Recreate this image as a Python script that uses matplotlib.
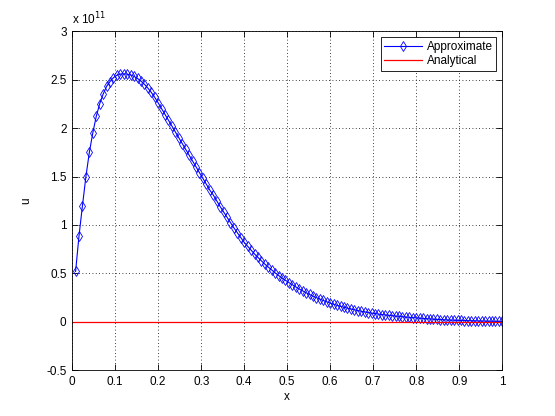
import numpy as np
import matplotlib
matplotlib.use("Agg")
import matplotlib.pyplot as plt
from matplotlib.ticker import FuncFormatter

plt.rcParams["font.family"] = ["Liberation Sans", "DejaVu Sans"]

# approximate solution, sampled every 0.008 (values in units of 1e11)
x_approx = np.arange(1, 126) * 0.008
u_approx = [
    0.52, 0.89, 1.20, 1.50, 1.75, 1.95, 2.12, 2.25, 2.35, 2.43,
    2.48, 2.52, 2.545, 2.557, 2.56,
    2.557, 2.548, 2.533, 2.512, 2.485, 2.452, 2.413, 2.368, 2.317, 2.26,
    2.20, 2.14, 2.08, 2.02, 1.96, 1.90, 1.84, 1.78, 1.72, 1.66,
    1.60, 1.54, 1.48, 1.42, 1.36,
    1.31, 1.25, 1.19, 1.135, 1.08, 1.025, 0.97, 0.92, 0.87, 0.82,
    0.78, 0.74, 0.70, 0.665, 0.63, 0.595, 0.565, 0.535, 0.505, 0.478,
    0.452, 0.428, 0.405,
    0.382, 0.36, 0.339, 0.319, 0.30, 0.282, 0.265, 0.249, 0.234, 0.22,
    0.206, 0.193,
    0.181, 0.17, 0.16, 0.15, 0.141, 0.132, 0.124, 0.116, 0.109, 0.102,
    0.096, 0.09, 0.085, 0.08, 0.075, 0.071, 0.067, 0.063, 0.059, 0.056,
    0.052, 0.049, 0.046, 0.043, 0.041,
    0.038, 0.035, 0.032, 0.029, 0.027, 0.025, 0.023, 0.021, 0.019, 0.018,
    0.016, 0.015, 0.014, 0.013, 0.012, 0.011, 0.010, 0.009, 0.008, 0.007,
    0.006, 0.005, 0.005, 0.004, 0.004,
]

# analytical solution (flat at zero on this scale)
x_exact = [0.0, 1.0]
u_exact = [0.0, 0.0]

x_ticks = [0, 0.1, 0.2, 0.3, 0.4, 0.5, 0.6, 0.7, 0.8, 0.9, 1]
y_ticks = [-0.5, 0, 0.5, 1, 1.5, 2, 2.5, 3]

fig = plt.figure(figsize=(5.55, 4.16), dpi=100)
ax = fig.add_axes([0.13, 0.11, 0.775, 0.815])

ax.plot(x_approx, u_approx, color=(0, 0, 1), lw=0.8, marker="d",
        markersize=5.5, markerfacecolor="none", markeredgewidth=0.6,
        label="Approximate")
ax.plot(x_exact, u_exact, color=(1, 0, 0), lw=0.9, label="Analytical")

ax.set_xlim(0, 1)
ax.set_ylim(-0.5, 3)
ax.set_xticks(x_ticks)
ax.set_yticks(y_ticks)
fmt = FuncFormatter(lambda v, p: "%g" % v)
ax.xaxis.set_major_formatter(fmt)
ax.yaxis.set_major_formatter(fmt)
ax.tick_params(direction="in", length=4, width=0.6, labelsize=8.5,
               top=True, right=True, pad=4)
ax.grid(True, color="black", linestyle=(0, (1, 3)), linewidth=0.6)
for s in ax.spines.values():
    s.set_linewidth(0.6)

ax.set_xlabel("x", fontsize=8.5, labelpad=2)
ax.set_ylabel("u", fontsize=8.5, labelpad=10)
ax.text(0.0, 1.012, "x 10$^{11}$", transform=ax.transAxes, fontsize=8.5,
        ha="left", va="bottom")

leg = ax.legend(loc="upper right", fontsize=8.5, fancybox=False,
                framealpha=1, edgecolor="black", borderaxespad=0.5,
                handlelength=3.2, handletextpad=0.4, borderpad=0.3,
                labelspacing=0.2)
leg.get_frame().set_linewidth(0.6)

fig.savefig("out.png", dpi=100)
